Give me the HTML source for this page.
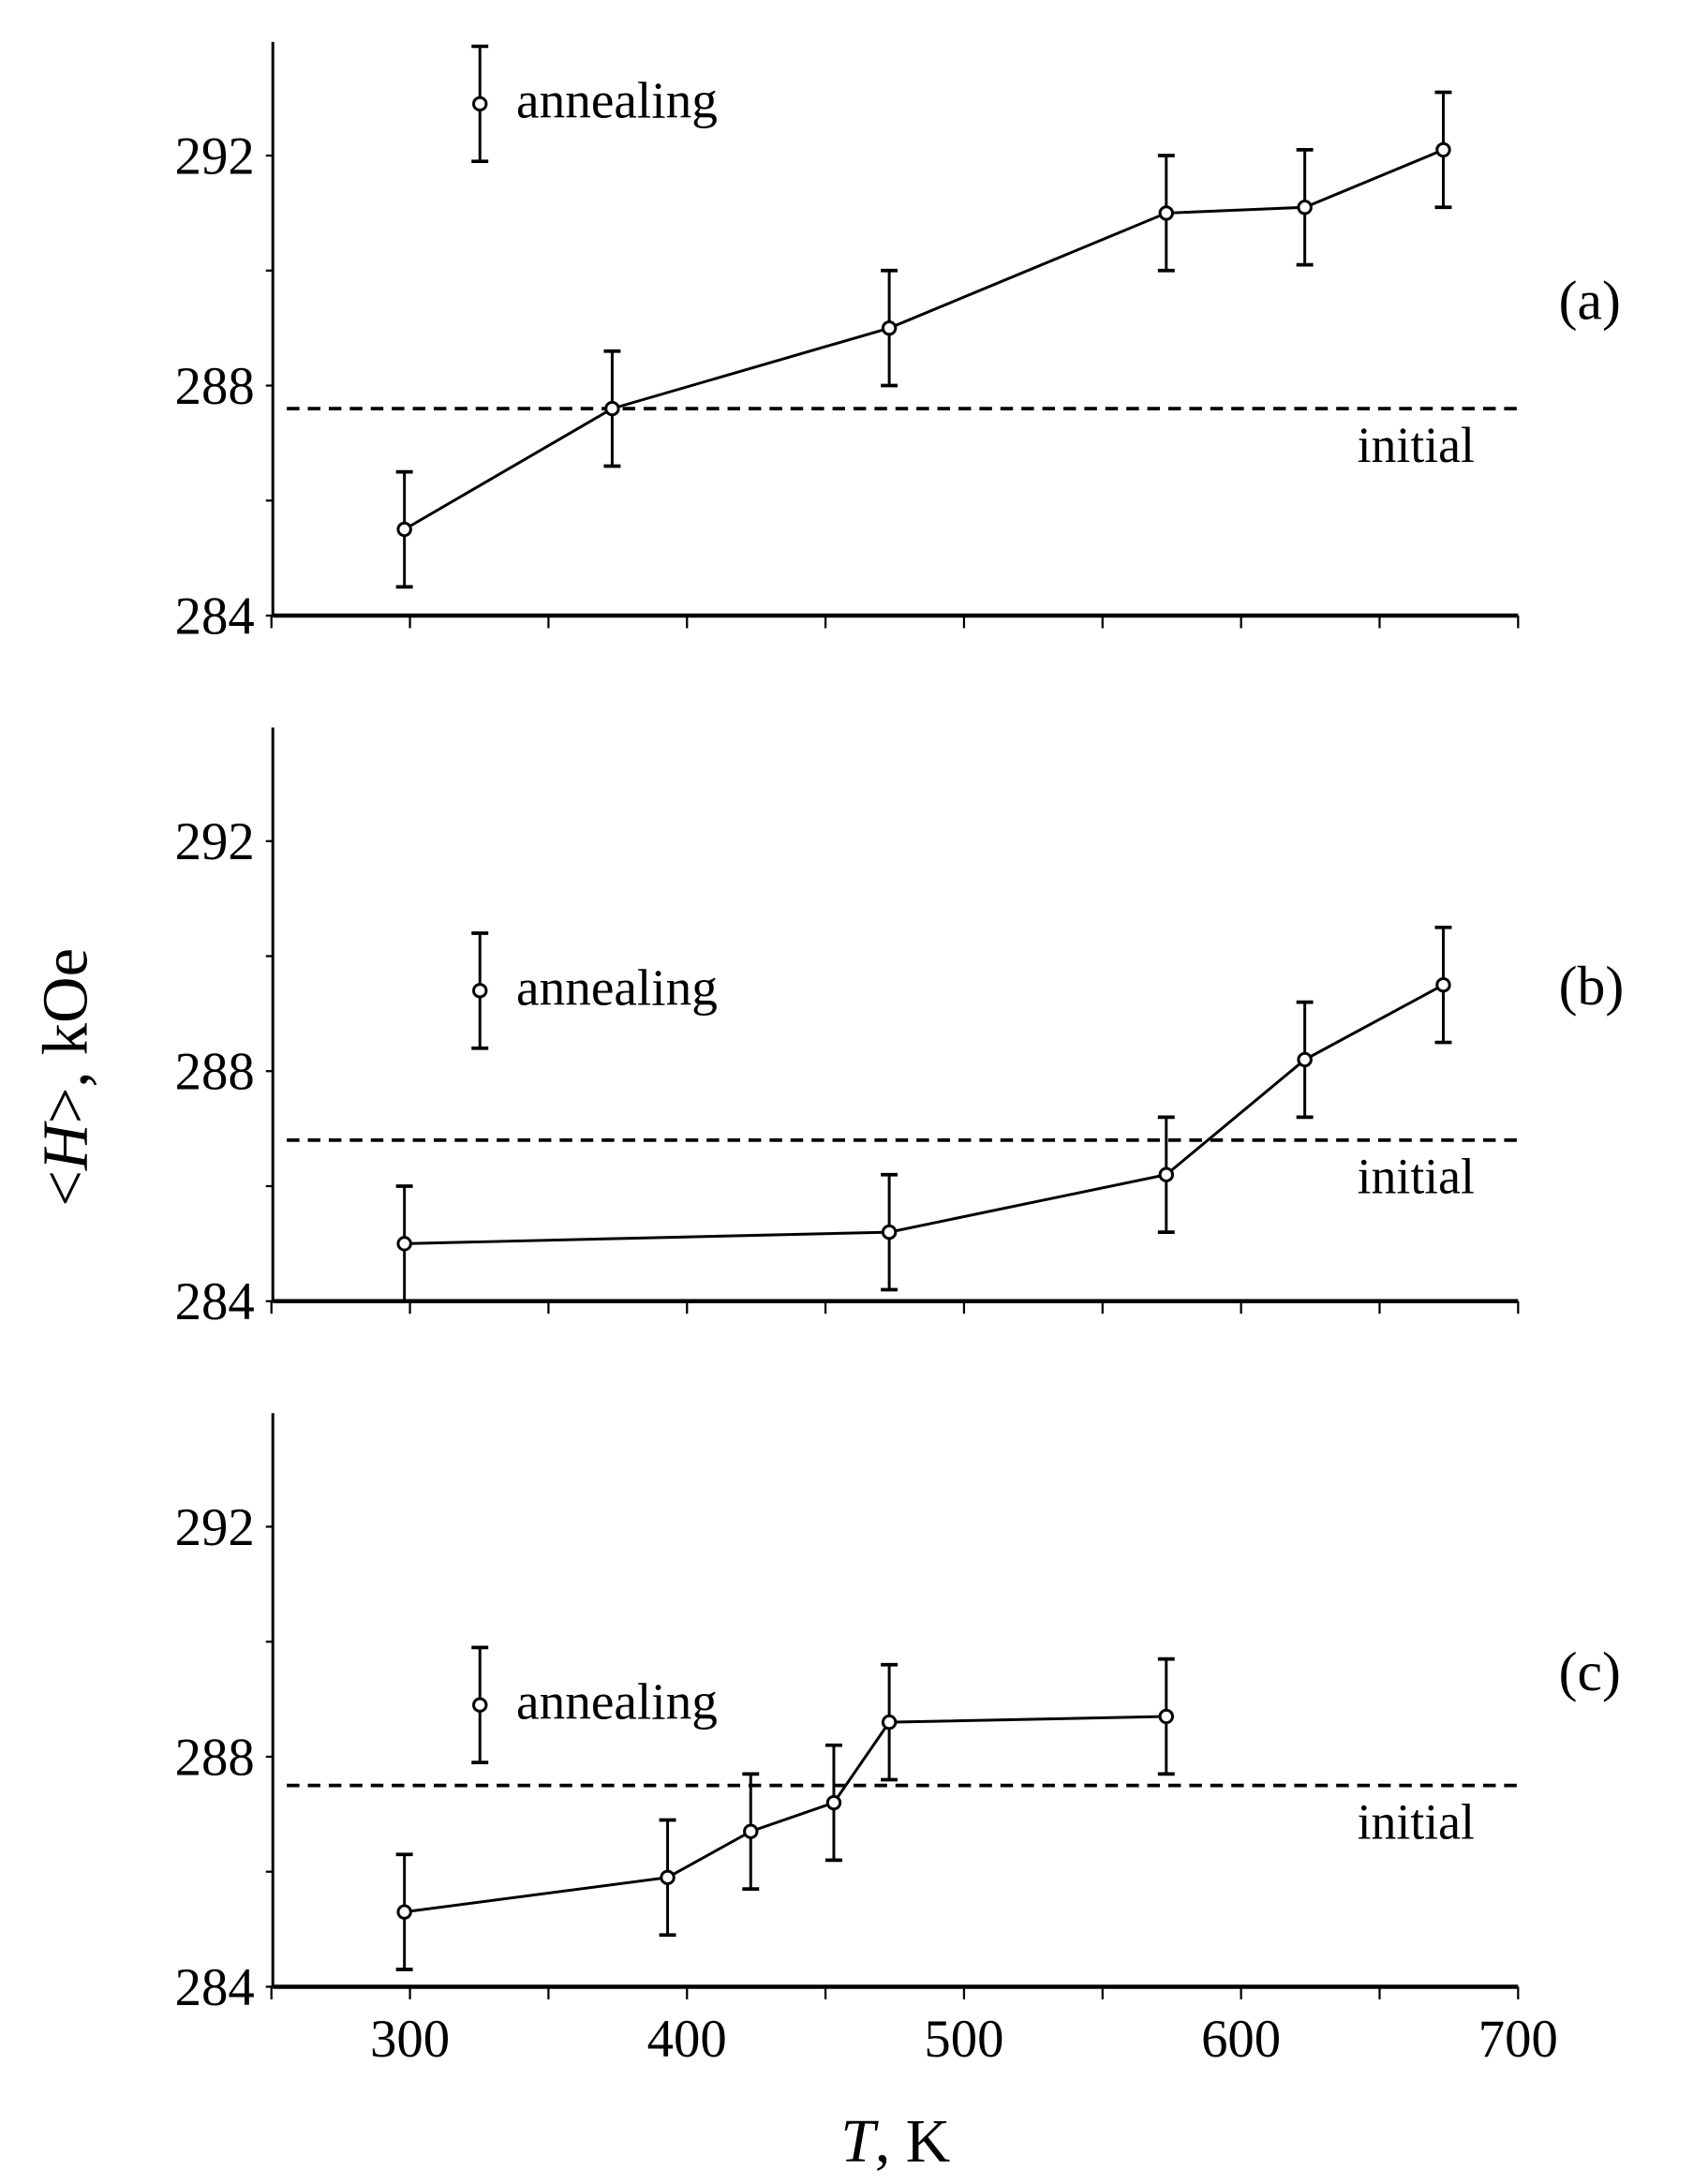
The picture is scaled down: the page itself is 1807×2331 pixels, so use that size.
<!DOCTYPE html>
<html><head><meta charset="utf-8"><style>
html,body{margin:0;padding:0;background:#fff}
svg{display:block}
text{font-family:"Liberation Serif",serif;fill:#000}
</style></head><body>
<svg id="chart" width="1807" height="2331" viewBox="0 0 1210 1561" preserveAspectRatio="none" xmlns="http://www.w3.org/2000/svg">
<text x="0" y="0" font-size="46" text-anchor="middle" transform="translate(62,770) rotate(-90)">&lt;<tspan font-style="italic">H</tspan>&gt;, kOe</text>
<text x="640" y="1545" font-size="44" text-anchor="middle"><tspan font-style="italic">T</tspan>, K</text>
<g id="plots"></g>
</svg>
<script>
const panelLabels = ["(a)", "(b)", "(c)"];
const xTicks = [300, 400, 500, 600, 700];
const yTicks = [284, 288, 292];
const xA = [298, 373, 473, 573, 623, 673];
const yA = [285.5, 287.6, 289.0, 291.0, 291.1, 292.1];
const xB = [298, 473, 573, 623, 673];
const yB = [285.0, 285.2, 286.2, 288.2, 289.5];
const xC = [298, 393, 423, 453, 473, 573];
const yC = [285.3, 285.9, 286.7, 287.2, 288.6, 288.7];
const errA = [1, 1, 1, 1, 1, 1];
const errB = [1, 1, 1, 1, 1];
const errC = [1, 1, 1, 1, 1, 1];
const initialVals = [287.6, 286.8, 287.5];
const legendVals = [292.9, 289.4, 288.9];

const NS = "http://www.w3.org/2000/svg";
const root = document.getElementById("plots");
function el(tag, attrs, parent) {
  const e = document.createElementNS(NS, tag);
  for (const k in attrs) e.setAttribute(k, attrs[k]);
  parent.appendChild(e);
  return e;
}
const X0 = 195, X1 = 1085;
function xs(v) { return 293 + (v - 300) * 1.98; }
const panels = [
  {xd: xA, yd: yA, err: errA, base: 440},
  {xd: xB, yd: yB, err: errB, base: 930},
  {xd: xC, yd: yC, err: errC, base: 1420}
];
panels.forEach((p, i) => {
  const ys = v => p.base - (v - 284) * 41.1;
  const g = el("g", {}, root);
  
  
  const yax = el("line", {x1: X0, y1: p.base - 410, x2: X0, y2: p.base, stroke: "#000", "stroke-width": 2}, g);
  
  
  const xax = el("line", {x1: X0, y1: p.base, x2: X1, y2: p.base, stroke: "#000", "stroke-width": 3}, g);
  
  
  for (let v = 250; v <= 700; v += 50) {
    el("line", {x1: xs(v), y1: p.base, x2: xs(v), y2: p.base + 9, stroke: "#000", "stroke-width": 1.5}, g);
  }
  for (let v = 284; v <= 292; v += 2) {
    el("line", {x1: X0 - 5, y1: ys(v), x2: X0, y2: ys(v), stroke: "#000", "stroke-width": 1.5}, g);
  }
  yTicks.forEach(v => {
    const t = el("text", {x: 182, y: ys(v) + 13, "font-size": 38, "text-anchor": "end"}, g);
    
    
    t.textContent = v;
  });
  if (i === 2) {
    xTicks.forEach(v => {
      const t = el("text", {x: xs(v), y: p.base + 50, "font-size": 38, "text-anchor": "middle"}, g);
      
      
      t.textContent = v;
    });
  }
  const dl = el("line", {x1: 205, y1: ys(initialVals[i]), x2: X1, y2: ys(initialVals[i]), stroke: "#000", "stroke-width": 2.5, "stroke-dasharray": "9,6"}, g);
  
  
  const it = el("text", {x: 970, y: ys(initialVals[i]) + 38, "font-size": 36}, g);
  
  
  it.textContent = "initial";
  const pl = el("text", {x: 1114, y: p.base - 212, "font-size": 40}, g);
  
  
  pl.textContent = panelLabels[i];
  const pts = p.xd.map((x, k) => xs(x) + "," + ys(p.yd[k])).join(" ");
  const line = el("polyline", {points: pts, fill: "none", stroke: "#000", "stroke-width": 2}, g);
  
  
  function marker(cx, v, e, name) {
    const mg = el("g", {}, g);
    
    
    el("line", {x1: cx, y1: ys(v - e), x2: cx, y2: ys(v + e), stroke: "#000", "stroke-width": 2}, mg);
    el("line", {x1: cx - 6, y1: ys(v - e), x2: cx + 6, y2: ys(v - e), stroke: "#000", "stroke-width": 2.5}, mg);
    el("line", {x1: cx - 6, y1: ys(v + e), x2: cx + 6, y2: ys(v + e), stroke: "#000", "stroke-width": 2.5}, mg);
    el("circle", {cx: cx, cy: ys(v), r: 4.5, fill: "#fff", stroke: "#000", "stroke-width": 2}, mg);
  }
  p.xd.forEach((x, k) => marker(xs(x), p.yd[k], p.err[k], 'data-point'));
  marker(343, legendVals[i], 1, 'legend-marker');
  const lt = el("text", {x: 369, y: ys(legendVals[i]) + 10, "font-size": 37}, g);
  
  
  lt.textContent = "annealing";
});
</script>
</body></html>
